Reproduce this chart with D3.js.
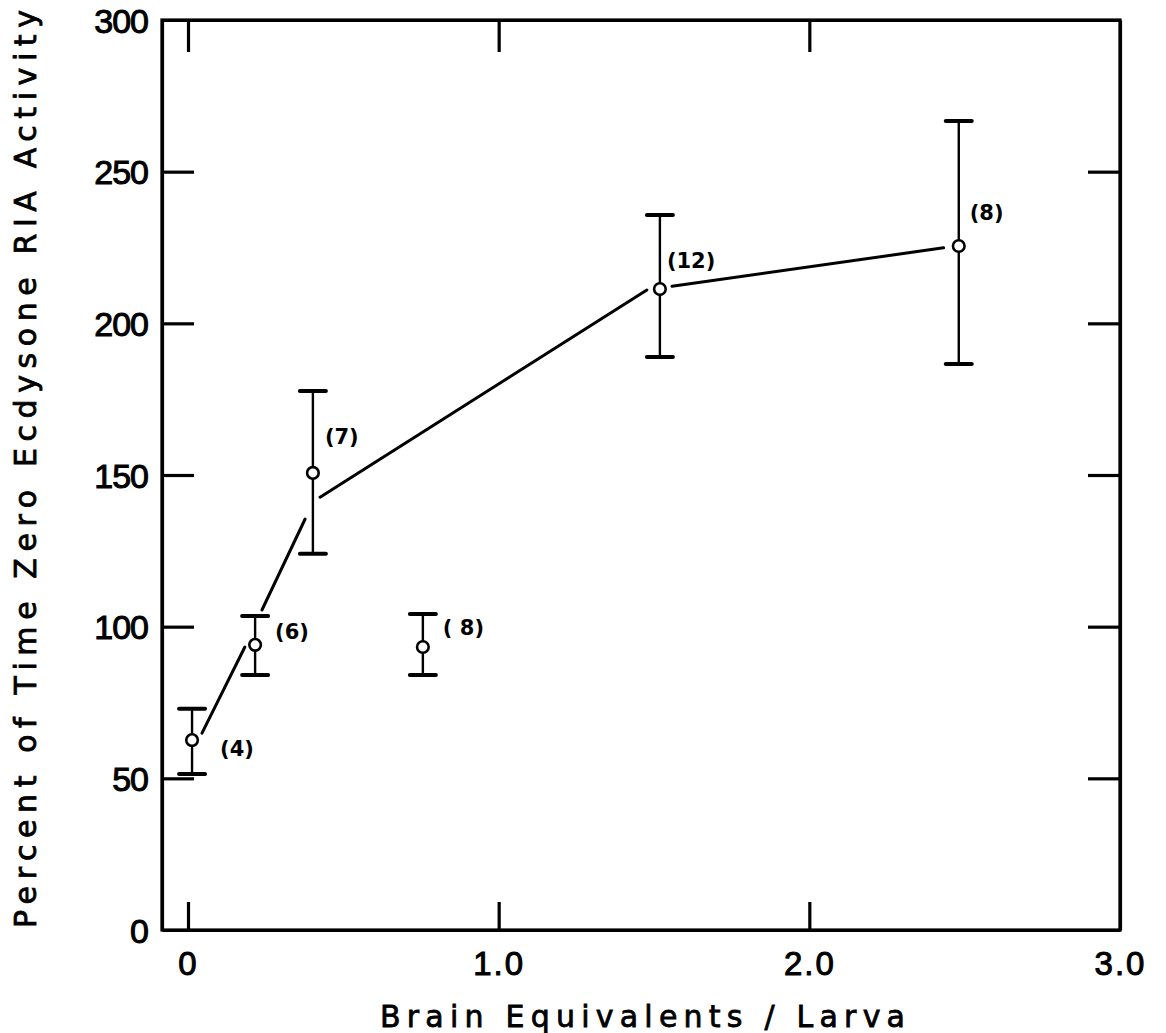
<!DOCTYPE html>
<html><head><meta charset="utf-8">
<script src="https://cdn.jsdelivr.net/npm/d3@7"></script>
<style>body{margin:0;background:#fff}svg{display:block}</style>
</head><body>
<svg id="c" width="1166" height="1033"></svg>
<script>
// ---- data ----
const doseX  = [0.013, 0.216, 0.402, 0.756, 1.519, 2.481];
const meanY  = [62.6, 94.0, 150.7, 93.3, 211.3, 225.5];
const upperY = [72.9, 103.5, 177.7, 104.2, 235.7, 266.7];
const lowerY = [51.4, 84.1, 124.0, 84.1, 188.9, 186.6];
const nLabels = ["(4)", "(6)", "(7)", "( 8)", "(12)", "(8)"];
// hand-drawn connecting line, segment ends in data units
const segX1 = [0.045, 0.238, 0.425, 1.558];
const segY1 = [64.9, 105.5, 142.7, 212.2];
const segX2 = [0.183, 0.377, 1.477, 2.432];
const segY2 = [93.3, 135.5, 211.0, 224.9];
const xTicks = [0, 1, 2, 3];
const xTickLabels = ["0", "1.0", "2.0", "3.0"];
const yTicks = [0, 50, 100, 150, 200, 250, 300];
const xTitle = "Brain Equivalents / Larva";
const yTitle = "Percent of Time Zero Ecdysone RIA Activity";

// ---- layout ----
const L = 162, R = 1120, T = 20, B = 930;
const labelDx = [28, 20, 12, 20, 7, 11];
const labelDy = [8, -13, -36, -20, -29, -34];

const svg = d3.select("#c");
const x = d3.scaleLinear().domain([-0.0837, 3.0]).range([L, R]);
const y = d3.scaleLinear().domain([0, 300]).range([B, T]);

const font = "'Liberation Sans', Arial, sans-serif";
const tickLen = 32;

const gl = svg.append("g").attr("transform", `translate(${L},0)`)
  .call(d3.axisLeft(y).tickValues(yTicks).tickSizeInner(-tickLen).tickSizeOuter(0).tickPadding(14).tickFormat(d3.format("d")));
const gr = svg.append("g").attr("transform", `translate(${R},0)`)
  .call(d3.axisRight(y).tickValues(yTicks.slice(1, -1)).tickSizeInner(-tickLen).tickSizeOuter(0).tickFormat(""));
const gb = svg.append("g").attr("transform", `translate(0,${B})`)
  .call(d3.axisBottom(x).tickValues(xTicks).tickSizeInner(-tickLen + 4).tickSizeOuter(0).tickPadding(22).tickFormat((d, i) => xTickLabels[i]));
const gt = svg.append("g").attr("transform", `translate(0,${T})`)
  .call(d3.axisTop(x).tickValues(xTicks.slice(0, -1)).tickSizeInner(-tickLen).tickSizeOuter(0).tickFormat(""));

[gl, gr, gb, gt].forEach(g => {
  g.select(".domain").attr("stroke", "#000").attr("stroke-width", 3.2);
  g.selectAll(".tick line").attr("stroke", "#000").attr("stroke-width", 3.2);
  g.selectAll("text").attr("font-family", font).attr("fill", "#000")
    .attr("stroke", "#000").attr("stroke-width", 1);
});
gl.selectAll("text").attr("font-size", 34).attr("letter-spacing", -1).attr("dy", "0.36em");
gb.selectAll("text").attr("font-size", 33).attr("letter-spacing", 2);
gl.selectAll(".tick").filter(d => d === 0 || d === 300).select("line").remove();
gb.selectAll(".tick").filter(d => d === 3).select("line").remove();
svg.append("rect").attr("x", L).attr("y", T).attr("width", R - L).attr("height", B - T)
  .attr("fill", "none").attr("stroke", "#000").attr("stroke-width", 3.2);

// connecting line segments
const lineGen = d3.line().x(d => x(d[0])).y(d => y(d[1]));
svg.append("g").selectAll("path").data(segX1.map((v, i) => [[v, segY1[i]], [segX2[i], segY2[i]]]))
  .join("path").attr("d", lineGen).attr("fill", "none").attr("stroke", "#000")
  .attr("stroke-width", 3).attr("stroke-linecap", "round");

// error bars
const pts = doseX.map((v, i) => ({x: v, m: meanY[i], hi: upperY[i], lo: lowerY[i], lab: nLabels[i], dx: labelDx[i], dy: labelDy[i]}));
const eb = svg.append("g");
eb.selectAll("line.stem").data(pts).join("line").attr("class", "stem")
  .attr("x1", d => x(d.x)).attr("x2", d => x(d.x))
  .attr("y1", d => y(d.hi)).attr("y2", d => y(d.lo))
  .attr("stroke", "#000").attr("stroke-width", 2.4);
const capW = 13;
["hi", "lo"].forEach(k => {
  eb.selectAll("line.cap" + k).data(pts).join("line").attr("class", "cap" + k)
    .attr("x1", d => x(d.x) - capW).attr("x2", d => x(d.x) + capW)
    .attr("y1", d => y(d[k])).attr("y2", d => y(d[k]))
    .attr("stroke", "#000").attr("stroke-width", 4).attr("stroke-linecap", "round");
});
svg.append("g").selectAll("circle").data(pts).join("circle")
  .attr("cx", d => x(d.x)).attr("cy", d => y(d.m)).attr("r", 5.8)
  .attr("fill", "#fff").attr("stroke", "#000").attr("stroke-width", 2.6);
svg.append("g").selectAll("text").data(pts).join("text")
  .attr("x", d => x(d.x) + d.dx).attr("y", d => y(d.m) + d.dy)
  .attr("dy", "0.36em").attr("font-family", "'DejaVu Sans', sans-serif")
  .attr("font-weight", "bold").attr("font-size", 21).attr("fill", "#000")
  .text(d => d.lab);

// axis titles
svg.append("text").attr("x", 380).attr("y", 1027)
  .attr("font-family", "'DejaVu Sans', sans-serif").attr("font-size", 30)
  .attr("fill", "#000").attr("stroke", "#000").attr("stroke-width", 0.8)
  .attr("textLength", 525).attr("lengthAdjust", "spacing").text(xTitle);
svg.append("text").attr("transform", "translate(36,928) rotate(-90)")
  .attr("x", 0).attr("y", 0)
  .attr("font-family", "'DejaVu Sans', sans-serif").attr("font-size", 30)
  .attr("fill", "#000").attr("stroke", "#000").attr("stroke-width", 0.8)
  .attr("textLength", 918).attr("lengthAdjust", "spacing").text(yTitle);
</script>
</body></html>
